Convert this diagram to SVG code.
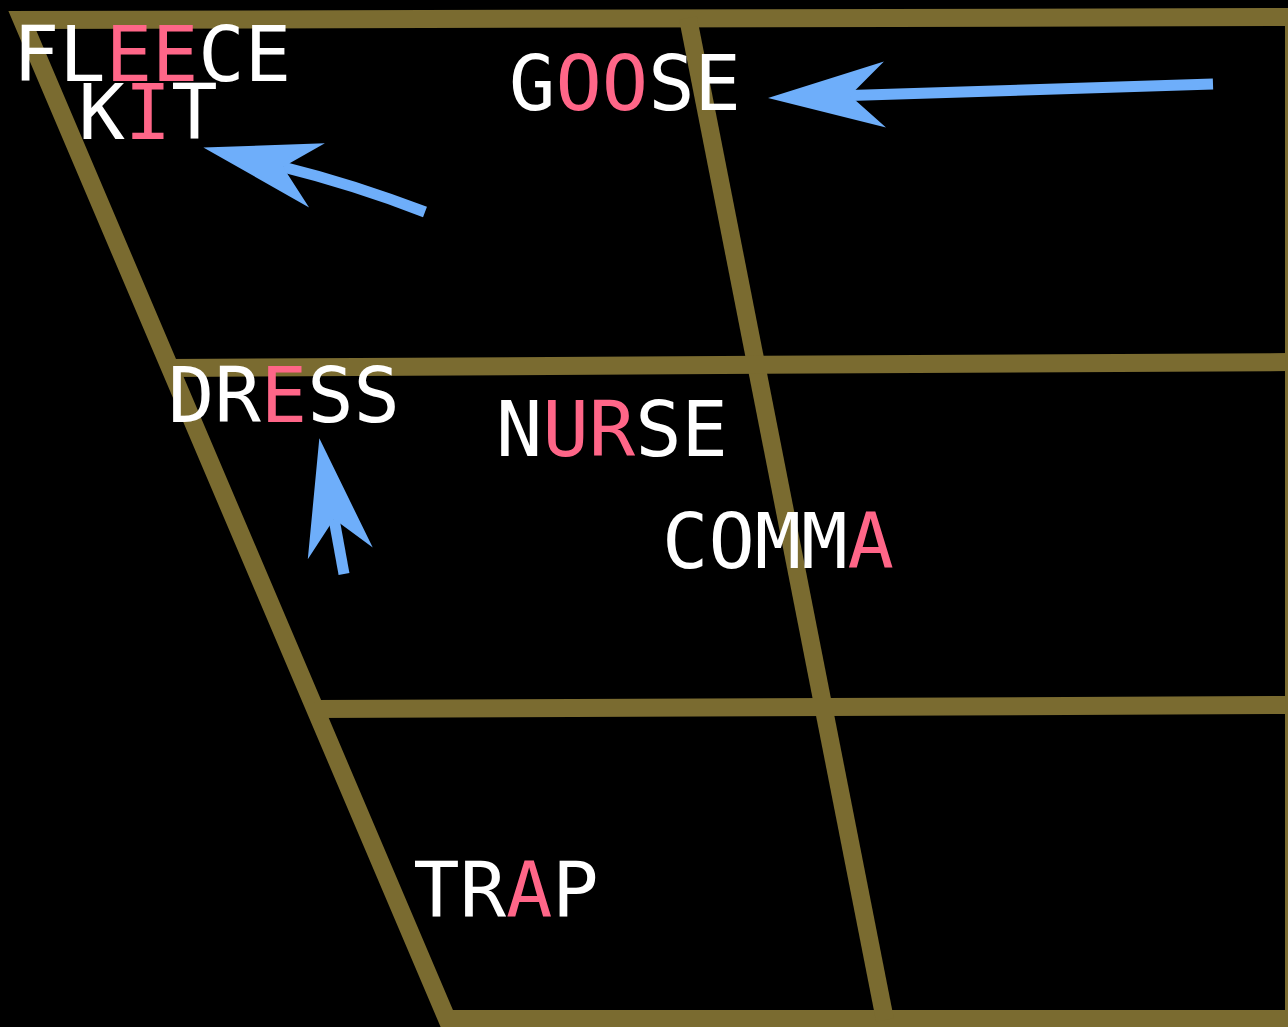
<svg xmlns="http://www.w3.org/2000/svg" width="1288" height="1027" viewBox="0 0 1288 1027">
<style>
.grid{fill:none;stroke:#7a6b30;stroke-width:18;stroke-linejoin:miter}
.w{font-family:"DejaVu Sans Mono",monospace;font-size:77px;fill:#ffffff;text-anchor:middle}
.p{fill:#ff6688}
.arr{fill:none;stroke:#6eaefa;stroke-width:11;marker-end:url(#head)}
</style>
<defs>
<marker id="head" markerUnits="userSpaceOnUse" orient="auto" refX="0" refY="0" markerWidth="10" markerHeight="10" overflow="visible">
<path d="M82,0 L-35,-33 L0,0 L-35,33 Z" fill="#6eaefa"/>
</marker>
</defs>
<rect x="0" y="0" width="1288" height="1027" fill="#000"/>
<g id="chart">
<path class="grid" d="M1300,17 L22,20 L447,1019 L1300,1019"/>
<path class="grid" d="M688,18 L885,1020"/>
<path class="grid" d="M169,368 L1300,362"/>
<path class="grid" d="M315,709 L1300,705"/>
<path class="grid" d="M1294,10 L1294,1027"/>
</g>
<g id="connectors">
<path class="arr" d="M1213,84 L850,95.5"/>
<path class="arr" d="M425,212 Q352,184 283,167"/>
<path class="arr" d="M344,574 L334,519"/>
</g>
<g id="fleece"><text class="w" x="152" y="81">FL<tspan class="p">EE</tspan>CE</text></g>
<g id="kit"><text class="w" x="148" y="139">K<tspan class="p">I</tspan>T</text></g>
<g id="goose"><text class="w" x="625" y="110">G<tspan class="p">OO</tspan>SE</text></g>
<g id="dress"><text class="w" x="284" y="422">DR<tspan class="p">E</tspan>SS</text></g>
<g id="nurse"><text class="w" x="612" y="456">N<tspan class="p">UR</tspan>SE</text></g>
<g id="comma"><text class="w" x="778" y="568">COMM<tspan class="p">A</tspan></text></g>
<g id="trap"><text class="w" x="506" y="917">TR<tspan class="p">A</tspan>P</text></g>
</svg>
